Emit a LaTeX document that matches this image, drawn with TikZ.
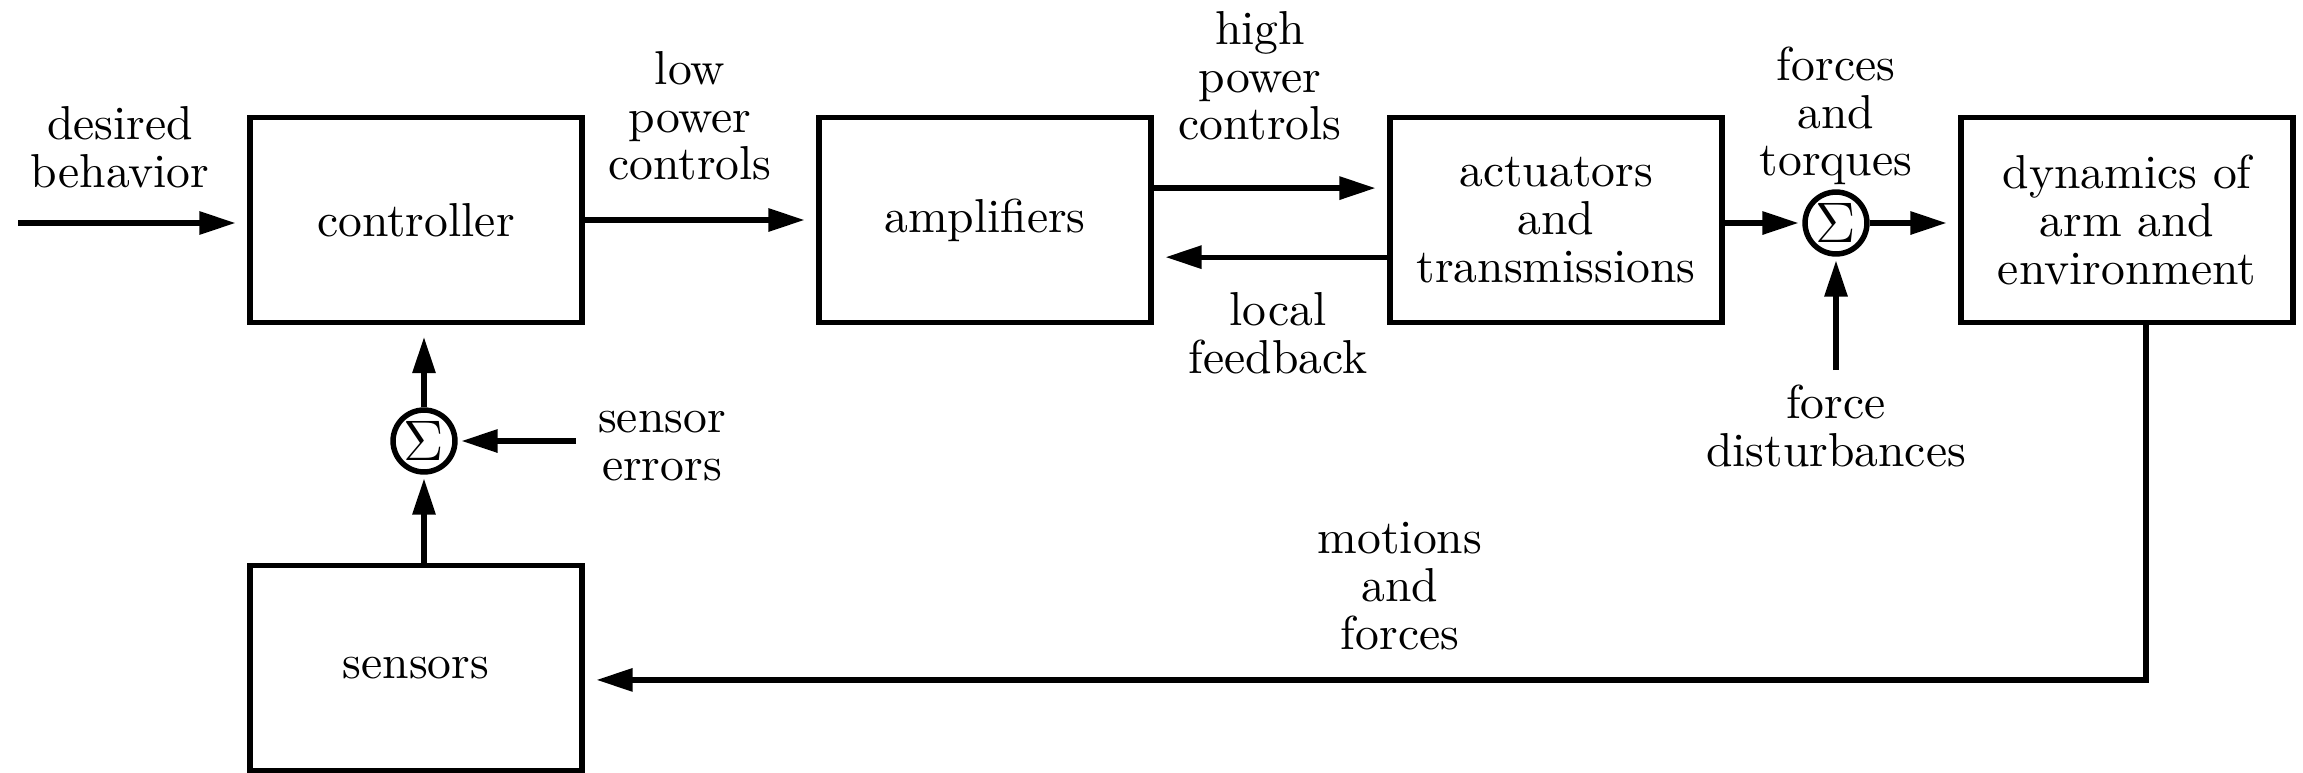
\documentclass[tikz,border=0pt]{standalone}
\usetikzlibrary{arrows.meta,calc}
\begin{document}
\begin{tikzpicture}[x=0.21pt,y=-0.21pt,
  every node/.style={font=\fontsize{10}{10}\selectfont, align=center},
  blk/.style={draw, line width=1.1pt, minimum width=69.72pt, minimum height=43.05pt, inner sep=0pt},
  lbl/.style={inner sep=0pt},
  sumnode/.style={draw, circle, line width=1.15pt, minimum size=13pt, inner sep=0pt, font=\fontsize{11.5}{11.5}\selectfont},
  arr/.style={line width=1.1pt, -{Triangle[length=7.6pt,width=4.7pt]}, shorten >=2.5pt},
  arrc/.style={line width=1.1pt, -{Triangle[length=7.6pt,width=4.7pt]}, shorten >=0.8pt}]
\useasboundingbox (0,0) rectangle (2303,772);
% blocks
\node[blk] (ctrl) at (416,220) {controller};
\node[blk] (amp) at (985,220) {amplifiers};
\node[blk] (act) at (1556,220) {actuators\\and\\transmissions};
\node[blk] (dyn) at (2127,220) {dynamics of\\arm and\\environment};
\node[blk] (sens) at (416,668) {sensors};
% summing junctions
\node[sumnode] (s1) at (424,441) {$\Sigma$};
\node[sumnode] (s2) at (1836,223) {$\Sigma$};
% labels
\node[lbl] (ldes) at (120,147) {desired\\behavior};
\node[lbl] (llow) at (690,116) {low\\power\\controls};
\node[lbl] (lhigh) at (1260,76) {high\\power\\controls};
\node[lbl] (lloc) at (1278,333) {local\\feedback};
\node[lbl] (lft) at (1836,116) {forces\\and\\torques};
\node[lbl] (lfd) at (1836,426) {force\\disturbances};
\node[lbl] (lse) at (662,446) {sensor\\errors};
\node[lbl] (lmf) at (1400,586) {motions\\and\\forces};
% coordinates for free ends
\coordinate (din) at (18,223);
\coordinate (sein) at (576,441);
\coordinate (fdin) at (1836,370);
\coordinate (fbx) at (2146,0);
% connectors
\draw[arr] (din) -- (din -| ctrl.west);
\draw[arr] (ctrl.east) -- (amp.west);
\draw[arr] ([yshift=6.7pt]amp.east) -- ([yshift=6.7pt]act.west);
\draw[arr] ([yshift=-7.8pt]act.west) -- ([yshift=-7.8pt]amp.east);
\draw[arrc] (act.east |- s2) -- (s2.west);
\draw[arr] (s2.east) -- (s2.east -| dyn.west);
\draw[arrc] (fdin) -- (s2.south);
\draw[arrc] (sein) -- (s1.east);
\draw[arrc] (sens.north -| s1) -- (s1.south);
\draw[arr] (s1.north) -- (ctrl.south -| s1);
\draw[arr] (dyn.south -| fbx) |- ([yshift=-2.5pt]sens.east);
\end{tikzpicture}
\end{document}
